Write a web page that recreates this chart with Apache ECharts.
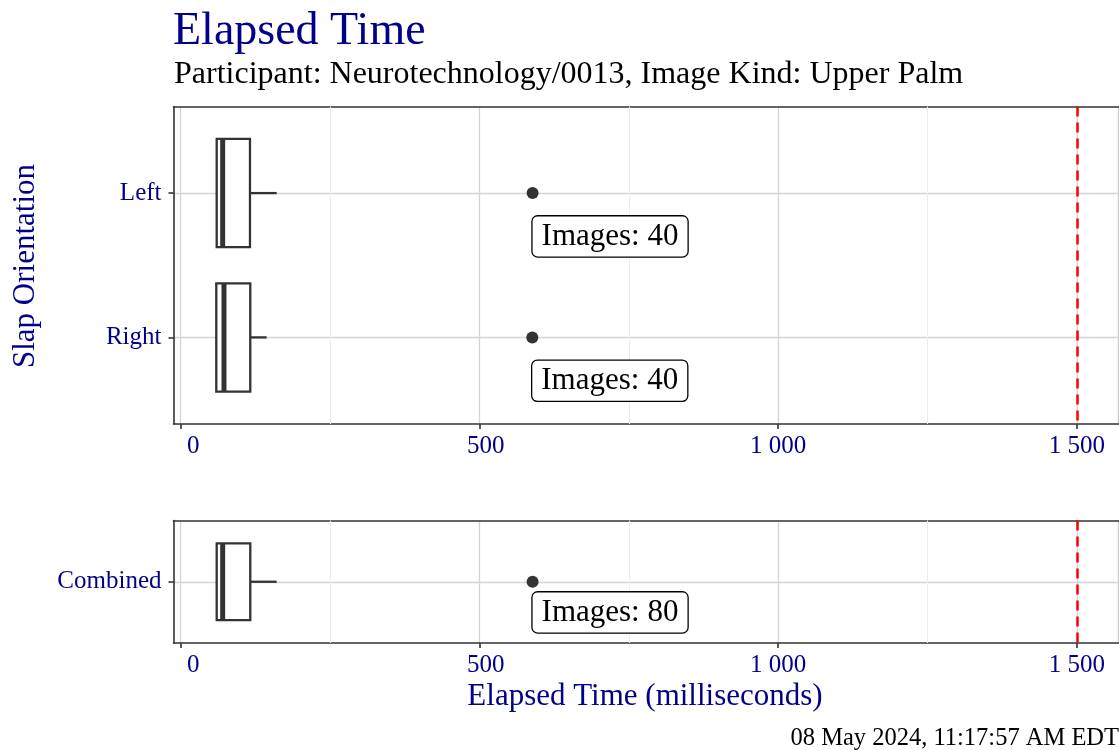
<!DOCTYPE html>
<html><head><meta charset="utf-8">
<script src="https://cdn.jsdelivr.net/npm/echarts@6/dist/echarts.min.js"></script>
<style>html,body{margin:0;padding:0;background:#fff}#c{width:1119px;height:750px}</style>
</head><body><div id="c"></div>
<script>
// ---- data ----
const topCategories = ['Left', 'Right'];
const bottomCategories = ['Combined'];
// [whiskerLow, q1, median, q3, whiskerHigh]
const topBoxes = [[59, 60.3, 70.3, 116, 160.7], [58.5, 59.6, 72.5, 116.5, 143.9]];
const bottomBoxes = [[59, 60.3, 70.3, 116.5, 160.7]];
const topOutliers = [589, 588.5];
const bottomOutliers = [589];
const topCounts = [40, 40];
const bottomCounts = [80];
const xTicks = [0, 500, 1000, 1500];
const xTickLabels = ['    0', '  500', '1 000', '1 500'];
const xMinorTicks = [250, 750, 1250];
const threshold = 1500;

// ---- styles ----
const FONT = '"Liberation Serif", "DejaVu Serif", serif';
const BLUE = '#00008B';
const DARK = '#333333';
const XMIN = -12, XMAX = 1569.6;

function renderBox(params, api) {
  const y = api.value(0);
  const lo = api.coord([api.value(1), y]);
  const q1 = api.coord([api.value(2), y]);
  const md = api.coord([api.value(3), y]);
  const q3 = api.coord([api.value(4), y]);
  const hi = api.coord([api.value(5), y]);
  const h = Math.abs(api.size([0, 0.75])[1]);
  const cy = q1[1];
  const st = { stroke: DARK, lineWidth: 2.3 };
  return {
    type: 'group',
    children: [
      { type: 'line', shape: { x1: lo[0], y1: cy, x2: q1[0], y2: cy }, style: st },
      { type: 'line', shape: { x1: q3[0], y1: cy, x2: hi[0], y2: cy }, style: st },
      { type: 'rect', shape: { x: q1[0], y: cy - h / 2, width: q3[0] - q1[0], height: h }, style: { fill: '#ffffff', stroke: DARK, lineWidth: 2.3 } },
      { type: 'line', shape: { x1: md[0], y1: cy - h / 2, x2: md[0], y2: cy + h / 2 }, style: { stroke: DARK, lineWidth: 5 } }
    ]
  };
}

function xAxisFor(gridIndex) {
  return {
    type: 'value', gridIndex: gridIndex, min: XMIN, max: XMAX, position: 'bottom',
    axisLine: { show: true, onZero: false, lineStyle: { color: DARK, width: 1.6 } },
    axisTick: { show: true, length: 5, customValues: xTicks, lineStyle: { color: DARK, width: 1.6 } },
    axisLabel: {
      customValues: xTicks, margin: 10, color: BLUE, fontFamily: FONT, fontSize: 25,
      formatter: function (v) { const i = xTicks.indexOf(v); return i >= 0 ? xTickLabels[i] : ''; }
    },
    splitLine: { show: true, lineStyle: { color: '#d4d4d4', width: 1.3 } }
  };
}
function xBorderFor(gridIndex) {
  return {
    type: 'value', gridIndex: gridIndex, min: XMIN, max: XMAX, position: 'top',
    axisLine: { show: true, onZero: false, lineStyle: { color: DARK, width: 1.6 } },
    axisTick: { show: false }, axisLabel: { show: false }, splitLine: { show: false }
  };
}
function yAxisFor(gridIndex, cats) {
  const vals = cats.map(function (c, i) { return i + 1; });
  return {
    type: 'value', gridIndex: gridIndex, inverse: true, min: 0.4, max: cats.length + 0.6, position: 'left',
    axisLine: { show: true, onZero: false, lineStyle: { color: DARK, width: 1.6 } },
    axisTick: { show: true, length: 5, customValues: vals, lineStyle: { color: DARK, width: 1.6 } },
    axisLabel: {
      customValues: vals, margin: 12, color: BLUE, fontFamily: FONT, fontSize: 25,
      formatter: function (v) { return cats[Math.round(v) - 1] || ''; }
    },
    splitLine: { show: true, lineStyle: { color: '#d4d4d4', width: 1.3 } }
  };
}
function yBorderFor(gridIndex, cats) {
  return {
    type: 'value', gridIndex: gridIndex, inverse: true, min: 0.4, max: cats.length + 0.6, position: 'right',
    axisLine: { show: true, onZero: false, lineStyle: { color: '#cccccc', width: 1.3 } },
    axisTick: { show: false }, axisLabel: { show: false }, splitLine: { show: false }
  };
}

function seriesFor(idx, boxes, outliers, counts) {
  return [
    {
      type: 'custom', xAxisIndex: idx, yAxisIndex: idx, z: 3,
      renderItem: renderBox,
      encode: { x: [1, 2, 3, 4, 5], y: 0 },
      data: boxes.map(function (b, i) { return [i + 1].concat(b); }),
      markLine: {
        silent: true, symbol: 'none', z: 1, label: { show: false },
        lineStyle: { color: '#ececec', width: 1.1, type: 'solid' },
        data: xMinorTicks.map(function (v) { return { xAxis: v }; })
      }
    },
    {
      type: 'scatter', xAxisIndex: idx, yAxisIndex: idx, z: 4,
      symbolSize: 12, itemStyle: { color: DARK, opacity: 1 },
      data: outliers.map(function (v, i) { return [v, i + 1]; }),
      markLine: {
        silent: true, symbol: 'none', z: 10, label: { show: false },
        lineStyle: { color: '#ff0000', width: 2.5, type: [10, 6] },
        data: [{ xAxis: threshold }]
      }
    },
    {
      type: 'scatter', xAxisIndex: idx, yAxisIndex: idx, z: 6,
      symbolSize: 0, silent: true, itemStyle: { opacity: 1 },
      data: counts.map(function (n, i) { return [outliers[i], i + 1.3, n]; }),
      label: {
        show: true, position: 'right', distance: 0,
        formatter: function (p) { return 'Images: ' + p.value[2]; },
        color: '#000000', fontFamily: FONT, fontSize: 31, lineHeight: 32,
        backgroundColor: '#ffffff', borderColor: '#000000', borderWidth: 1.3, borderRadius: 5,
        padding: [5, 9, 3, 9]
      }
    }
  ];
}

const chart = echarts.init(document.getElementById('c'), null, { renderer: 'canvas' });
chart.setOption({
  animation: false,
  backgroundColor: '#ffffff',
  grid: [
    { left: 173.5, top: 106.5, right: 0.5, height: 317.5, show: false },
    { left: 173.5, top: 520.5, right: 0.5, height: 122.5, show: false }
  ],
  xAxis: [xAxisFor(0), xAxisFor(1), xBorderFor(0), xBorderFor(1)],
  yAxis: [yAxisFor(0, topCategories), yAxisFor(1, bottomCategories), yBorderFor(0, topCategories), yBorderFor(1, bottomCategories)],
  series: seriesFor(0, topBoxes, topOutliers, topCounts).concat(seriesFor(1, bottomBoxes, bottomOutliers, bottomCounts)),
  graphic: [
    { type: 'text', x: 173, y: 32, style: { text: 'Elapsed Time', fill: BLUE, font: '46px ' + FONT, verticalAlign: 'middle', align: 'left' } },
    { type: 'text', x: 174, y: 75, style: { text: 'Participant: Neurotechnology/0013, Image Kind: Upper Palm', fill: '#000', font: '32px ' + FONT, verticalAlign: 'middle', align: 'left' } },
    { type: 'text', x: 645, y: 697, style: { text: 'Elapsed Time (milliseconds)', fill: BLUE, font: '31px ' + FONT, verticalAlign: 'middle', align: 'center' } },
    { type: 'text', x: 26, y: 266, rotation: Math.PI / 2, style: { text: 'Slap Orientation', fill: BLUE, font: '31px ' + FONT, verticalAlign: 'middle', align: 'center' } },
    { type: 'text', x: 1119, y: 738.5, style: { text: '08 May 2024, 11:17:57 AM EDT', fill: '#000', font: '24.5px ' + FONT, verticalAlign: 'middle', align: 'right' } }
  ]
});
</script>
</body></html>
